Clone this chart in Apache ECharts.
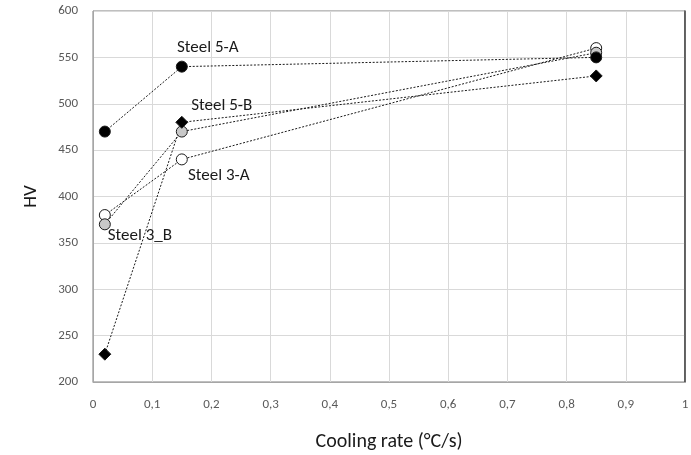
<!DOCTYPE html>
<html>
<head>
<meta charset="utf-8">
<script src="https://cdn.jsdelivr.net/npm/echarts@6/dist/echarts.min.js"></script>
<style>
  html, body { margin: 0; padding: 0; background: #fff; }
  #chart { width: 691px; height: 455px; }
</style>
</head>
<body>
<div id="chart"></div>
<script>
// cooling rate (°C/s) per sample
const coolingRates = [0.02, 0.15, 0.85];

// hardness HV per steel
const steel3A = [380, 440, 560];
const steel3B = [370, 470, 555];
const steel5B = [230, 480, 530];
const steel5A = [470, 540, 550];

const xTicks = [0, 0.1, 0.2, 0.3, 0.4, 0.5, 0.6, 0.7, 0.8, 0.9, 1];
const yTicks = [200, 250, 300, 350, 400, 450, 500, 550, 600];

const FONT = "Carlito, Lato, 'Open Sans', sans-serif";

function pairs(values) {
  return coolingRates.map(function (x, i) { return [x, values[i]]; });
}

// label attached to the middle point of each series
function labelled(values, name, offset) {
  const data = pairs(values);
  data[1] = {
    value: data[1],
    label: {
      show: true,
      formatter: name,
      position: "inside",
      offset: offset,
      color: "#1a1a1a",
      fontSize: 17,
      fontFamily: FONT,
    },
  };
  return data;
}

function makeSeries(name, values, symbol, size, fill, offset) {
  return {
    name: name,
    type: "line",
    data: labelled(values, name, offset),
    symbol: symbol,
    symbolSize: size,
    showAllSymbol: true,
    lineStyle: { color: "#1a1a1a", width: 1, type: [2, 1.6] },
    itemStyle: { color: fill, borderColor: "#1a1a1a", borderWidth: 1 },
    emphasis: { disabled: true },
    z: 3,
  };
}

const chart = echarts.init(document.getElementById("chart"));

chart.setOption({
  animation: false,
  grid: {
    left: 93,
    right: 6,
    top: 11,
    bottom: 73,
    outerBoundsMode: "none",
    containLabel: false,
    show: true,
    borderColor: "#7f7f7f",
    borderWidth: 1,
  },
  xAxis: {
    type: "value",
    min: 0,
    max: 1,
    interval: 0.1,
    name: "Cooling rate (°C/s)",
    nameLocation: "middle",
    nameGap: 50,
    nameTextStyle: { color: "#1a1a1a", fontSize: 20, fontFamily: FONT },
    axisLine: { show: true, onZero: false, lineStyle: { color: "#a6a6a6" } },
    axisTick: { show: false },
    axisLabel: {
      color: "#595959",
      fontSize: 13,
      fontFamily: FONT,
      margin: 16,
      formatter: function (v) { return String(+v.toFixed(1)).replace(".", ","); },
    },
    splitLine: { show: true, lineStyle: { color: "#d9d9d9" } },
  },
  yAxis: [
    {
      type: "value",
      min: yTicks[0],
      max: yTicks[yTicks.length - 1],
      interval: 50,
      name: "HV",
      nameLocation: "middle",
      nameGap: 52,
      nameTextStyle: { color: "#1a1a1a", fontSize: 19, fontFamily: FONT },
      axisLine: { show: true, lineStyle: { color: "#a6a6a6" } },
      axisTick: { show: false },
      axisLabel: { color: "#595959", fontSize: 13, fontFamily: FONT, margin: 15 },
      splitLine: { show: true, lineStyle: { color: "#d9d9d9" } },
    },
    {
      type: "value",
      position: "right",
      min: yTicks[0],
      max: yTicks[yTicks.length - 1],
      interval: 50,
      axisLine: { show: true, lineStyle: { color: "#404040", width: 1.5 } },
      axisTick: { show: false },
      axisLabel: { show: false },
      splitLine: { show: false },
    },
  ],
  series: [
    makeSeries("Steel 3-A", steel3A, "circle", 11, "#ffffff", [37, 16]),
    makeSeries("Steel 3_B", steel3B, "circle", 11, "#c8c8c8", [-42, 104]),
    makeSeries("Steel 5-B", steel5B, "diamond", 12, "#000000", [40, -17]),
    makeSeries("Steel 5-A", steel5A, "circle", 11, "#000000", [26, -19]),
  ],
});
</script>
</body>
</html>
